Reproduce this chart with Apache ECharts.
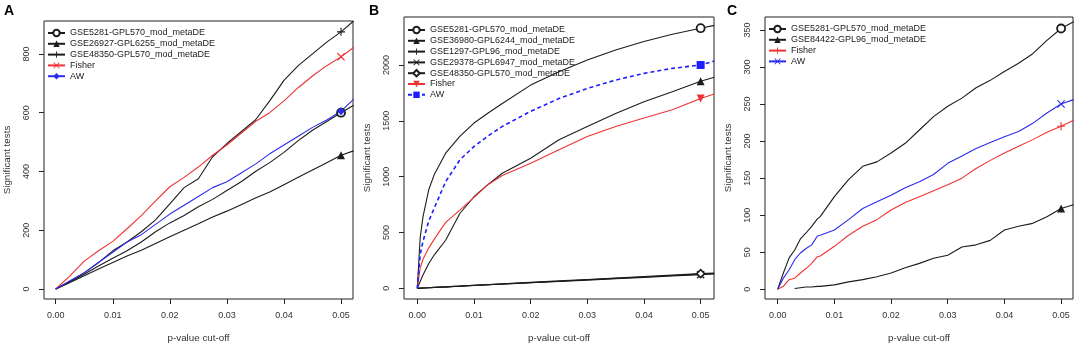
<!DOCTYPE html>
<html>
<head>
<meta charset="utf-8">
<script src="https://cdn.jsdelivr.net/npm/echarts@6/dist/echarts.min.js"></script>
<style>
  html, body { margin: 0; padding: 0; background: #fff; }
  #chart { width: 1080px; height: 345px; }
</style>
</head>
<body>
<div id="chart"></div>
<script>
// ---- panel A ----
const xA = [0, 0.0025, 0.005, 0.0075, 0.01, 0.0125, 0.015, 0.0175, 0.02, 0.0225, 0.025, 0.0275, 0.03, 0.0325, 0.035, 0.0375, 0.04, 0.0425, 0.045, 0.0475, 0.05, 0.0522];
const a_GSE5281  = [0, 25, 50, 78, 105, 130, 160, 195, 225, 250, 280, 305, 335, 365, 400, 430, 465, 505, 540, 570, 600, 625];
const a_GSE26927 = [0, 22, 45, 68, 90, 112, 132, 155, 178, 200, 222, 245, 265, 287, 310, 330, 355, 380, 405, 430, 455, 470];
const a_GSE48350 = [0, 25, 55, 90, 130, 160, 195, 235, 290, 345, 375, 450, 495, 535, 575, 640, 710, 760, 800, 840, 875, 912];
const a_Fisher   = [0, 45, 95, 130, 162, 205, 250, 300, 348, 380, 415, 455, 490, 530, 570, 600, 640, 685, 725, 760, 790, 822];
const a_AW       = [0, 28, 55, 90, 125, 160, 185, 220, 255, 285, 315, 345, 365, 395, 425, 460, 490, 520, 550, 575, 605, 645];

// ---- panel B ----
const xB = [0, 0.0005, 0.001, 0.002, 0.003, 0.005, 0.0075, 0.01, 0.0125, 0.015, 0.02, 0.025, 0.03, 0.035, 0.04, 0.045, 0.05, 0.0524];
const b_GSE5281  = [0, 450, 640, 880, 1020, 1210, 1360, 1480, 1570, 1655, 1820, 1940, 2045, 2135, 2210, 2275, 2330, 2355];
const b_GSE36980 = [0, 60, 120, 220, 300, 430, 670, 820, 930, 1030, 1165, 1330, 1450, 1565, 1670, 1760, 1855, 1890];
const b_GSE1297  = [0, 1, 3, 5, 8, 13, 19, 26, 32, 38, 51, 63, 76, 89, 101, 114, 127, 133];
const b_GSE29378 = [0, 1, 2, 5, 7, 12, 18, 25, 31, 37, 49, 61, 73, 86, 98, 110, 122, 128];
const b_GSE48350 = [0, 1, 3, 5, 8, 13, 20, 27, 33, 40, 53, 66, 79, 92, 105, 118, 131, 137];
const b_Fisher   = [0, 180, 260, 360, 440, 590, 700, 815, 930, 1010, 1120, 1240, 1360, 1450, 1525, 1600, 1700, 1740];
const b_AW       = [0, 300, 420, 600, 720, 955, 1150, 1270, 1365, 1450, 1585, 1700, 1790, 1865, 1925, 1970, 2000, 2035];

// ---- panel C ----
const xC = [0, 0.001, 0.002, 0.003, 0.004, 0.005, 0.006, 0.007, 0.0075, 0.01, 0.0125, 0.015, 0.0175, 0.02, 0.0225, 0.025, 0.0275, 0.03, 0.0325, 0.035, 0.0375, 0.04, 0.0425, 0.045, 0.0475, 0.05, 0.0522];
const c_GSE5281  = [0, 22, 42, 53, 68, 76, 85, 95, 98, 125, 148, 166, 172, 184, 197, 215, 233, 247, 258, 272, 282, 294, 305, 318, 336, 352, 361];
const c_GSE84422 = [null, null, null, 1, 2, 3, 3, 4, 4, 6, 10, 13, 17, 22, 29, 35, 42, 46, 57, 60, 66, 80, 85, 89, 98, 109, 114];
const c_Fisher   = [0, 4, 13, 15, 22, 28, 35, 44, 45, 58, 73, 85, 94, 107, 117, 125, 133, 141, 150, 163, 174, 184, 193, 202, 212, 220, 228];
const c_AW       = [0, 15, 26, 40, 49, 55, 60, 72, 73, 80, 94, 109, 118, 127, 137, 145, 155, 170, 180, 190, 198, 206, 213, 224, 238, 250, 256];

// tick labels
const xTicks  = [0, 0.01, 0.02, 0.03, 0.04, 0.05];
const yTicksA = [0, 200, 400, 600, 800];
const yTicksB = [0, 500, 1000, 1500, 2000];
const yTicksC = [0, 50, 100, 150, 200, 250, 300, 350];

const FONT = 'Liberation Sans, Arial, sans-serif';
const BLACK = '#1c1c1c';
const RED = '#ee3333';
const BLUE = '#2b2bee';
const PLUS = 'path://M4.3,0H5.7V4.3H10V5.7H5.7V10H4.3V5.7H0V4.3H4.3Z';
const CROSS = 'path://M1,0L5,4L9,0L10,1L6,5L10,9L9,10L5,6L1,10L0,9L4,5L0,1Z';

const pairs = (xs, ys) => xs.map((x, i) => ys[i] == null ? null : [x, ys[i]]).filter(Boolean);

// marker only at p = 0.05, like the R plot
const endMark = (v) => Math.abs(v[0] - 0.05) < 1e-9 ? 8 : 0;

const line = (name, gi, xs, ys, color, symbol, opts = {}) => Object.assign({
    name: name,
    type: 'line',
    xAxisIndex: gi,
    yAxisIndex: gi,
    data: pairs(xs, ys),
    showSymbol: true,
    showAllSymbol: true,
    symbol: symbol,
    symbolSize: endMark,
    itemStyle: { color: color },
    lineStyle: { color: color, width: 1.1 },
    emphasis: { disabled: true },
    silent: true,
    z: 3
}, opts);

const openCircle = { itemStyle: { color: '#fff', borderColor: BLACK, borderWidth: 1.8 } };
const openDiamond = { itemStyle: { color: '#fff', borderColor: BLACK, borderWidth: 1.6 } };

const series = [
    // A
    line('GSE5281-GPL570_mod_metaDE', 0, xA, a_GSE5281, BLACK, 'circle', openCircle),
    line('GSE26927-GPL6255_mod_metaDE', 0, xA, a_GSE26927, BLACK, 'triangle'),
    line('GSE48350-GPL570_mod_metaDE', 0, xA, a_GSE48350, BLACK, PLUS),
    line('Fisher', 0, xA, a_Fisher, RED, CROSS),
    line('AW', 0, xA, a_AW, BLUE, 'diamond'),
    // B (trailing space keeps legend items apart from panel A)
    line('GSE5281-GPL570_mod_metaDE ', 1, xB, b_GSE5281, BLACK, 'circle', openCircle),
    line('GSE36980-GPL6244_mod_metaDE ', 1, xB, b_GSE36980, BLACK, 'triangle'),
    line('GSE1297-GPL96_mod_metaDE ', 1, xB, b_GSE1297, BLACK, PLUS),
    line('GSE29378-GPL6947_mod_metaDE ', 1, xB, b_GSE29378, BLACK, CROSS),
    line('GSE48350-GPL570_mod_metaDE ', 1, xB, b_GSE48350, BLACK, 'diamond', openDiamond),
    line('Fisher ', 1, xB, b_Fisher, RED, 'triangle', { symbolRotate: 180 }),
    line('AW ', 1, xB, b_AW, '#1d1dff', 'rect', { lineStyle: { color: '#1d1dff', width: 1.6, type: [4, 3] } }),
    // C
    line('GSE5281-GPL570_mod_metaDE  ', 2, xC, c_GSE5281, BLACK, 'circle', openCircle),
    line('GSE84422-GPL96_mod_metaDE  ', 2, xC, c_GSE84422, BLACK, 'triangle'),
    line('Fisher  ', 2, xC, c_Fisher, RED, PLUS),
    line('AW  ', 2, xC, c_AW, BLUE, CROSS)
];

const grids = [
    { left: 44, top: 21, width: 309, height: 278 },
    { left: 404, top: 17, width: 310, height: 282 },
    { left: 765, top: 17, width: 308, height: 282 }
].map(g => Object.assign(g, {
    show: true, borderColor: '#222', borderWidth: 1, backgroundColor: 'transparent',
    containLabel: false, outerBoundsMode: 'none'
}));

const txt = { fontFamily: FONT, fontSize: 9, color: '#333' };
const nameTxt = { fontFamily: FONT, fontSize: 9.8, color: '#333' };

const xAxis = [[-0.00205, 0.0521], [-0.00235, 0.05236], [-0.00224, 0.0521]].map((r, i) => ({
    type: 'value', gridIndex: i, min: r[0], max: r[1],
    axisLine: { show: false, onZero: false },
    splitLine: { show: false },
    axisTick: { show: true, inside: false, length: 5, lineStyle: { color: '#222' }, customValues: xTicks },
    axisLabel: Object.assign({ customValues: xTicks, margin: 12, formatter: v => v.toFixed(2) }, txt),
    name: 'p-value cut-off', nameLocation: 'middle', nameGap: 34,
    nameTextStyle: nameTxt
}));

const yAxis = [[-34, 912, yTicksA], [-96, 2430, yTicksB], [-13.1, 367.5, yTicksC]].map((r, i) => ({
    type: 'value', gridIndex: i, min: r[0], max: r[1],
    axisLine: { show: false, onZero: false },
    splitLine: { show: false },
    axisTick: { show: true, inside: false, length: 5, lineStyle: { color: '#222' }, customValues: r[2] },
    axisLabel: Object.assign({ customValues: r[2], margin: 13, rotate: 90, formatter: v => String(v) }, txt),
    name: 'Significant tests', nameLocation: 'middle', nameGap: 32,
    nameTextStyle: nameTxt
}));

const legendBase = {
    orient: 'vertical', padding: 0, itemGap: 0, itemWidth: 17, itemHeight: 8,
    selectedMode: false,
    textStyle: { fontFamily: FONT, fontSize: 9, color: '#222', lineHeight: 10.8 }
};
const legend = [
    Object.assign({ left: 47, top: 27.6, data: series.slice(0, 5).map(s => s.name) }, legendBase),
    Object.assign({ left: 407, top: 24.6, data: series.slice(5, 12).map(s => s.name) }, legendBase),
    Object.assign({ left: 768, top: 23.6, data: series.slice(12).map(s => s.name) }, legendBase)
];

const title = [['A', 4], ['B', 369], ['C', 727]].map(t => ({
    text: t[0], left: t[1], top: 4, padding: 0,
    textStyle: { fontFamily: FONT, fontSize: 14, fontWeight: 'bold', color: '#000' }
}));

const chart = echarts.init(document.getElementById('chart'));
chart.setOption({
    animation: false,
    backgroundColor: '#fff',
    title: title,
    legend: legend,
    grid: grids,
    xAxis: xAxis,
    yAxis: yAxis,
    series: series
});
</script>
</body>
</html>
